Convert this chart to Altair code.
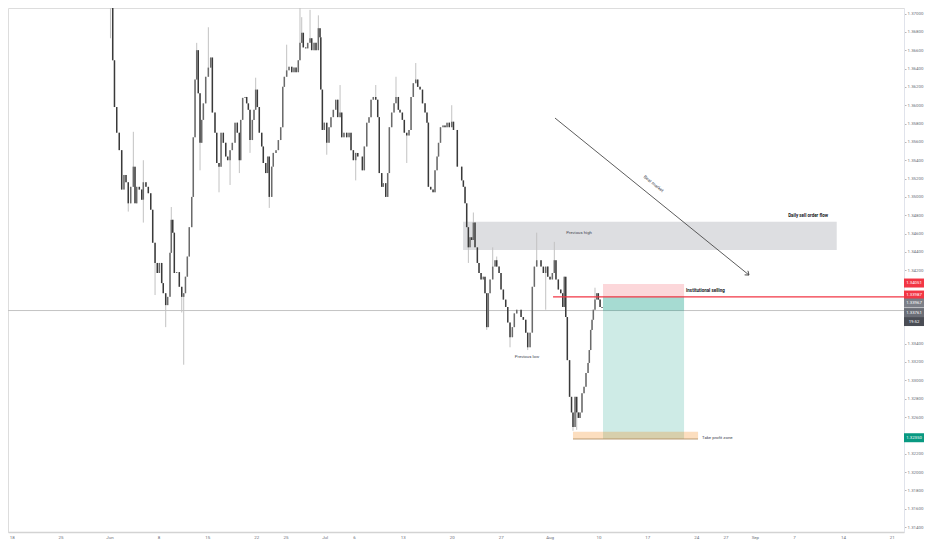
import json
import altair as alt
import pandas as pd

# ---------------- candle data: (trading-day index since Mon 18 May 2020, close) ----------------
june_bars = [
    (10.10, 1.3711), (10.33, 1.3649), (10.51, 1.3598), (10.74, 1.3570), (11.00, 1.3551), (11.25, 1.3508), (11.48, 1.3524), (11.69, 1.3516), (11.92, 1.3493), (12.17, 1.3511),
    (12.44, 1.3533), (12.61, 1.3493), (12.78, 1.3511), (13.05, 1.3508), (13.30, 1.3497), (13.46, 1.3516), (13.73, 1.3511), (13.97, 1.3504), (14.22, 1.3486), (14.42, 1.3450),
    (14.66, 1.3428), (14.89, 1.3417), (15.10, 1.3428), (15.34, 1.3406), (15.50, 1.3395), (15.75, 1.3382), (15.95, 1.3391), (16.19, 1.3439), (16.32, 1.3475), (16.47, 1.3461),
    (16.63, 1.3417), (16.87, 1.3418), (17.14, 1.3402), (17.39, 1.3391), (17.59, 1.3395), (17.77, 1.3413), (17.96, 1.3435), (18.16, 1.3467), (18.41, 1.3500), (18.57, 1.3565),
    (18.75, 1.3628), (18.92, 1.3660), (19.08, 1.3613), (19.26, 1.3559), (19.43, 1.3584), (19.60, 1.3602), (19.84, 1.3631), (20.11, 1.3641), (20.35, 1.3652), (20.52, 1.3592),
    (20.79, 1.3570), (20.97, 1.3537), (21.20, 1.3533), (21.41, 1.3570), (21.64, 1.3559), (21.89, 1.3544), (22.09, 1.3540), (22.33, 1.3551), (22.56, 1.3559), (22.84, 1.3581),
    (23.07, 1.3570), (23.28, 1.3540), (23.42, 1.3584), (23.62, 1.3608), (23.86, 1.3609), (24.03, 1.3602), (24.20, 1.3595), (24.37, 1.3562), (24.61, 1.3584), (24.78, 1.3595),
    (24.95, 1.3617), (25.12, 1.3598), (25.32, 1.3570), (25.57, 1.3555), (25.73, 1.3537), (25.98, 1.3526), (26.18, 1.3544), (26.34, 1.3500), (26.59, 1.3533), (26.75, 1.3548),
    (27.03, 1.3551), (27.27, 1.3562), (27.51, 1.3576), (27.72, 1.3620), (27.88, 1.3631), (28.12, 1.3638), (28.36, 1.3642), (28.64, 1.3636), (28.87, 1.3641), (29.08, 1.3636),
    (29.31, 1.3649), (29.48, 1.3668), (29.66, 1.3679), (29.82, 1.3663), (30.07, 1.3662), (30.27, 1.3668), (30.51, 1.3673), (30.68, 1.3660), (30.92, 1.3668), (31.12, 1.3660),
    (31.36, 1.3684), (31.53, 1.3674), (31.61, 1.3617), (31.77, 1.3573), (31.97, 1.3581),
]
july_bars = [
    (32.22, 1.3559), (32.45, 1.3576), (32.65, 1.3587), (32.89, 1.3595), (33.14, 1.3606), (33.34, 1.3587), (33.58, 1.3592), (33.75, 1.3565), (33.98, 1.3570), (34.26, 1.3565),
    (34.50, 1.3570), (34.70, 1.3551), (34.94, 1.3540), (35.18, 1.3548), (35.39, 1.3544), (35.62, 1.3544), (35.86, 1.3529), (36.06, 1.3555), (36.31, 1.3581), (36.54, 1.3587),
    (36.75, 1.3606), (36.98, 1.3609), (37.23, 1.3606), (37.43, 1.3587), (37.59, 1.3526), (37.84, 1.3511), (38.00, 1.3515), (38.25, 1.3500), (38.45, 1.3526), (38.62, 1.3576),
    (38.86, 1.3592), (39.10, 1.3602), (39.30, 1.3609), (39.54, 1.3595), (39.71, 1.3592), (39.95, 1.3584), (40.15, 1.3570), (40.40, 1.3567), (40.63, 1.3573), (40.84, 1.3609),
    (41.07, 1.3624), (41.32, 1.3628), (41.52, 1.3620), (41.76, 1.3617), (42.01, 1.3602), (42.27, 1.3592), (42.47, 1.3581), (42.61, 1.3511), (42.85, 1.3508), (43.09, 1.3505),
    (43.29, 1.3529), (43.50, 1.3544), (43.65, 1.3559), (43.85, 1.3576), (44.11, 1.3578), (44.31, 1.3576), (44.52, 1.3581), (44.75, 1.3576), (45.00, 1.3582), (45.18, 1.3573),
    (45.39, 1.3573), (45.57, 1.3533), (45.85, 1.3533), (46.02, 1.3518), (46.19, 1.3511), (46.36, 1.3493), (46.53, 1.3467), (46.70, 1.3445), (46.87, 1.3456), (47.04, 1.3453),
    (47.21, 1.3472), (47.38, 1.3445), (47.62, 1.3428), (47.79, 1.3417), (48.00, 1.3410), (48.23, 1.3413), (48.40, 1.3395), (48.58, 1.3358), (48.74, 1.3395), (48.92, 1.3410),
    (49.19, 1.3424), (49.43, 1.3431), (49.60, 1.3424), (49.84, 1.3417), (50.04, 1.3399), (50.28, 1.3388), (50.52, 1.3380), (50.73, 1.3363), (50.96, 1.3347), (51.20, 1.3358),
    (51.40, 1.3373), (51.65, 1.3377), (51.88, 1.3377), (52.09, 1.3369), (52.32, 1.3366), (52.57, 1.3352), (52.77, 1.3336), (53.01, 1.3352), (53.24, 1.3402), (53.45, 1.3424),
    (53.69, 1.3431), (53.93, 1.3431), (54.13, 1.3424), (54.37, 1.3417), (54.61, 1.3424), (54.82, 1.3413),
]
aug_bars = [
    (55.05, 1.3410), (55.29, 1.3417), (55.49, 1.3431), (55.66, 1.3410), (55.90, 1.3399), (56.15, 1.3395), (56.35, 1.3380), (56.51, 1.3413), (56.66, 1.3369), (56.82, 1.3322),
    (57.05, 1.3282), (57.25, 1.3265), (57.40, 1.3249), (57.61, 1.3282), (57.78, 1.3265), (57.95, 1.3259), (58.12, 1.3265), (58.32, 1.3286), (58.53, 1.3293), (58.73, 1.3308),
    (58.94, 1.3319), (59.07, 1.3333), (59.21, 1.3355), (59.35, 1.3366), (59.48, 1.3377), (59.65, 1.3388), (59.83, 1.3395), (59.99, 1.3388), (60.17, 1.3380), (60.37, 1.3379),
]
first_open = 1.3716

# visible long wicks (bar time, extreme price)
wick_highs = [
    (10.10, 1.3726), (11.25, 1.3537), (12.44, 1.3571), (13.46, 1.3540), (16.32, 1.3489), (18.92, 1.3668),
    (20.11, 1.3685), (24.95, 1.3630), (28.12, 1.3666), (29.48, 1.3716), (29.66, 1.3696), (30.51, 1.3704),
    (31.36, 1.3698), (33.58, 1.3622), (37.23, 1.3622), (39.30, 1.3631), (41.32, 1.3646), (45.00, 1.3600),
    (47.21, 1.3483), (49.19, 1.3445), (49.60, 1.3435), (53.69, 1.3461), (55.49, 1.3451), (59.65, 1.3401),
]
wick_lows = [
    (10.10, 1.3673), (11.92, 1.3484), (13.46, 1.3472), (14.66, 1.3393), (15.75, 1.3358), (17.39, 1.3374),
    (17.59, 1.3317), (19.26, 1.3529), (21.20, 1.3505), (22.33, 1.3513), (23.28, 1.3526), (24.37, 1.3548),
    (26.34, 1.3488), (32.22, 1.3546), (35.18, 1.3518), (40.40, 1.3537), (46.70, 1.3428), (48.58, 1.3355),
    (50.96, 1.3336), (52.77, 1.3333), (54.61, 1.3377), (57.40, 1.3245), (57.78, 1.3246), (59.21, 1.3344),
    (59.35, 1.3362),
]

# ---------------- axes ----------------
price_ticks = [1.314, 1.316, 1.318, 1.320, 1.322, 1.326, 1.328, 1.330, 1.332, 1.334,
               1.342, 1.344, 1.346, 1.348, 1.350, 1.352, 1.354, 1.356, 1.358, 1.360, 1.362,
               1.364, 1.366, 1.368, 1.370]
date_tick_pos = [0, 5, 10, 15, 20, 25, 28, 32, 35, 40, 45, 50, 55, 60, 65, 70, 73, 76, 80, 85, 90]
date_tick_labels = ["18", "25", "Jun", "8", "15", "22", "25", "Jul", "6", "13", "20", "27",
                    "Aug", "10", "17", "24", "27", "Sep", "7", "14", "21"]
x_range = [-0.378, 91.25]
y_range = [1.31346, 1.37060]

# ---------------- levels / drawings ----------------
stop_price = 1.34051
entry_price = 1.3391
last_price = 1.33761
tp_price = 1.3236
tp_zone_top = 1.3244
prev_high_zone = [1.3442, 1.3473]
prev_high_span = [46.16, 84.37]
position_span = [60.47, 68.76]
tp_zone_span = [57.40, 70.19]
red_line_start = 55.36
bear_line = [(55.56, 1.35860), (75.40, 1.34148)]

notes_plain_center = [("Previous high", 58.02, 1.34606), ("Previous low", 52.70, 1.33254)]
notes_bold_center = [("Daily sell order flow", 81.44, 1.34792)]
notes_bold_left = [("Institutional selling", 68.96, 1.33974)]
notes_plain_left = [("Take profit zone", 70.60, 1.32371)]
bear_label = [("Bear market", 65.62, 1.35140)]

tag_text = ["1.34051", "1.33987", "1.33967", "1.33761", "19:52", "1.32350"]
tag_price = [1.34061, 1.33930, 1.33843, 1.33739, 1.33641, 1.32374]
TAG_COLORS = ["#f23645", "#f23645", "#7c7f88", "#6b6e77", "#4a4d55", "#089981"]

# ---------------- build frames ----------------
bars = june_bars + july_bars + aug_bars
hi_map = dict(wick_highs)
lo_map = dict(wick_lows)
rows = []
prev = first_open
for t, c in bars:
    o = prev
    rows.append(dict(t=t, o=o, c=c,
                     p=min(o, c, lo_map.get(t, c)),
                     p2=max(o, c, hi_map.get(t, c)),
                     col="#6b6b6b" if c >= o else "#3a3a3a"))
    prev = c
candles = pd.DataFrame(rows)

XS = alt.Scale(domain=x_range, nice=False, zero=False)
YS = alt.Scale(domain=y_range, nice=False, zero=False)
FONT = "Roboto"
label_expr = f"{json.dumps(date_tick_labels)}[indexof({json.dumps(date_tick_pos)}, datum.value)]"
XA = alt.Axis(orient="bottom", values=date_tick_pos, labelExpr=label_expr, labelFontSize=4.4,
              labelColor="#6a6d78", ticks=False, labelPadding=3, domainColor="#d3d3d3",
              domainWidth=1.5, grid=False, title=None, labelFlush=False, labelOverlap=False,
              labelFont=FONT)
YA = alt.Axis(orient="right", values=price_ticks, format=".5f", labelFontSize=4.4,
              labelColor="#6a6d78", tickSize=2, tickColor="#b8b8b8", labelPadding=1,
              domainColor="#e0e3eb", grid=False, title=None, labelFont=FONT,
              labelOverlap=False, labelFlush=False)


def X(f):
    return alt.X(f, type="quantitative", scale=XS, axis=XA)


def Y(f):
    return alt.Y(f, type="quantitative", scale=YS, axis=YA)


crosshair = alt.Chart(pd.DataFrame({"p": [last_price]})).mark_rule(
    color="#c4c4c4", strokeWidth=1).encode(y=Y("p"))

wicks = alt.Chart(candles).mark_rule(color="#c2c2c2", strokeWidth=1, clip=True).encode(
    x=X("t"), y=Y("p"), y2="p2")
bodies = alt.Chart(candles).mark_rule(strokeWidth=1.5, strokeCap="butt", clip=True).encode(
    x=X("t"), y=Y("o"), y2="c", color=alt.Color("col:N", scale=None))


def box(t1, t2, p1, p2, color, opacity):
    df = pd.DataFrame({"t": [t1], "t2": [t2], "p": [p1], "p2": [p2]})
    return alt.Chart(df).mark_rect(color=color, opacity=opacity).encode(
        x=X("t"), x2="t2", y=Y("p"), y2="p2")


zone_gray = box(prev_high_span[0], prev_high_span[1], prev_high_zone[0], prev_high_zone[1], "#787b86", 0.25)
pos_stop = box(position_span[0], position_span[1], entry_price, stop_price, "#f23645", 0.2)
pos_target = box(position_span[0], position_span[1], tp_price, entry_price, "#089981", 0.2)
pos_open = box(position_span[0], position_span[1], last_price, entry_price, "#089981", 0.2)
tp_zone = box(tp_zone_span[0], tp_zone_span[1], tp_price, tp_zone_top, "#f57c00", 0.25)

tp_line = alt.Chart(pd.DataFrame({"t": [tp_zone_span[0]], "t2": [tp_zone_span[1]], "p": [tp_price]})).mark_rule(
    color="#b08d62", strokeWidth=1.2, opacity=0.85).encode(x=X("t"), x2="t2", y=Y("p"))

red_line = alt.Chart(pd.DataFrame({"t": [red_line_start], "t2": [x_range[1]], "p": [entry_price]})).mark_rule(
    color="#f23645", strokeWidth=1.2).encode(x=X("t"), x2="t2", y=Y("p"))

bear_df = pd.DataFrame({"t": [bear_line[0][0]], "t2": [bear_line[1][0]],
                        "p": [bear_line[0][1]], "p2": [bear_line[1][1]]})
bear = alt.Chart(bear_df).mark_rule(color="#4a4a4a", strokeWidth=0.9).encode(
    x=X("t"), x2="t2", y=Y("p"), y2="p2")
arrow = alt.Chart(pd.DataFrame({"t": [bear_line[1][0]], "p": [bear_line[1][1]]})).mark_point(
    shape="M-1,-0.75L0,0L-1,0.75", size=49, filled=False, stroke="#4a4a4a", strokeWidth=0.9,
    angle=39, opacity=1).encode(x=X("t"), y=Y("p"))


def notes(items, align, weight, size, color, angle=0):
    df = pd.DataFrame(items, columns=["label", "t", "p"])
    return alt.Chart(df).mark_text(align=align, baseline="middle", fontSize=size, fontWeight=weight,
                                   color=color, font=FONT, angle=angle).encode(
        x=X("t"), y=Y("p"), text="label:N")


txt1 = notes(notes_plain_center, "center", "normal", 4.3, "#434651")
txt2 = notes(notes_bold_center, "center", "bold", 4.5, "#131722")
txt3 = notes(notes_bold_left, "left", "bold", 4.5, "#131722")
txt4 = notes(notes_plain_left, "left", "normal", 4.3, "#434651")
txt5 = notes(bear_label, "center", "normal", 4.5, "#434651", angle=39)

tags_df = pd.DataFrame({"label": tag_text, "p": tag_price, "col": TAG_COLORS})
tag_boxes = alt.Chart(tags_df).mark_point(
    shape="M-1,-0.45L1,-0.45L1,0.45L-1,0.45Z", size=400, filled=True, opacity=1, clip=False).encode(
    x=alt.value(906), y=Y("p"), color=alt.Color("col:N", scale=None))
tag_text_layer = alt.Chart(tags_df).mark_text(
    align="center", baseline="middle", fontSize=4.3, color="white", font=FONT, clip=False).encode(
    x=alt.value(906), y=Y("p"), text="label:N")

chart = alt.layer(
    crosshair, zone_gray, wicks, bodies, pos_stop, pos_target, pos_open, tp_zone, tp_line,
    red_line, bear, arrow, txt1, txt2, txt3, txt4, txt5, tag_boxes, tag_text_layer
).properties(
    width=896, height=524,
    padding={"left": 0, "top": 0, "right": 20, "bottom": 10},
    autosize=alt.AutoSizeParams(type="none"),
).configure_view(stroke=None).configure(background="white")

chart.save("out.html", embed_options={"renderer": "svg", "actions": False})
